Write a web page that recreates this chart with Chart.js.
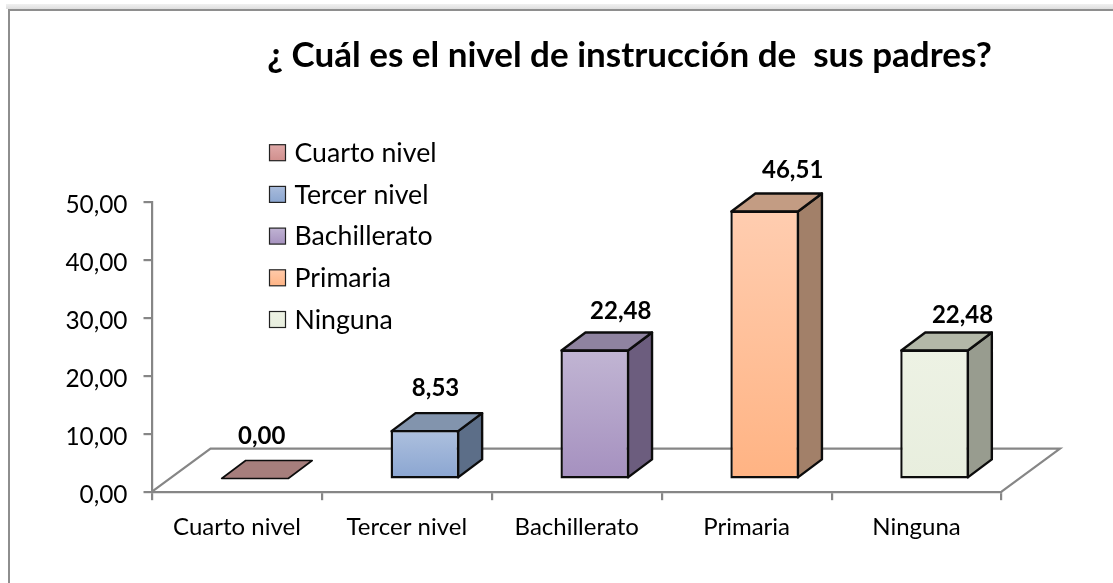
<!DOCTYPE html>
<html><head><meta charset="utf-8">
<style>html,body{margin:0;padding:0;background:#fff}canvas{display:block}</style>
<script src="https://cdn.jsdelivr.net/npm/chart.js@4"></script>
</head><body><canvas id="c" width="1113" height="583"></canvas>
<script>
const titleText = '¿ Cuál es el nivel de instrucción de  sus padres?';
const categories = ['Cuarto nivel','Tercer nivel','Bachillerato','Primaria','Ninguna'];
const values = [0, 8.53, 22.48, 46.51, 22.48];
const frontTop = ['#b08a88','#adc0de','#c1b5d3','#ffcdb0','#edf2e4'];
const frontBottom = ['#a67e7c','#8aa5d1','#a590bf','#ffb383','#e8eede'];
const sideColors = ['#8a6866','#5c6e88','#6c5d7e','#a28069','#989c8f'];
const topColors = ['#a67e7c','#8294ad','#8f83a0','#c39c83','#b3b8a8'];
const legendTop = ['#e0a9a8','#a9bcdc','#c0b3d3','#ffcaaa','#edf2e4'];
const legendBottom = ['#d08f8d','#8ba6d0','#a692bf','#ffb485','#e8eede'];
const labelOffsets = [[6.7,-25.4],[10.7,-23.4],[26,-20.4],[28,-22.1],[28,-16.1]];
const fmt = v => v.toFixed(2).replace('.', ',');
const FONT = 'Lato';
const DX = 24, DY = 18, SHIFT_X = 18, SHIFT_Y = 12.2, FLOOR_X = 58.5, FLOOR_Y = 43;
const AXIS = '#868686', EDGE = '#0c0c0c';

function poly(ctx, pts, fill){
  ctx.beginPath();
  pts.forEach((p,i)=> i?ctx.lineTo(p[0],p[1]):ctx.moveTo(p[0],p[1]));
  ctx.closePath();
  if(fill){ctx.fillStyle=fill;ctx.fill();}
  ctx.stroke();
}
const scene = {
  id:'scene',
  beforeDraw(chart){
    const ctx=chart.ctx;
    ctx.save();
    ctx.fillStyle='#fff';ctx.fillRect(0,0,chart.width,chart.height);
    const g=ctx.createLinearGradient(0,0,0,9);
    g.addColorStop(0,'#ffffff');g.addColorStop(1,'#dedede');
    ctx.fillStyle=g;ctx.fillRect(6,4,chart.width-6,5);
    ctx.strokeStyle='#8e8e8e';ctx.lineWidth=2;
    ctx.beginPath();ctx.moveTo(9,chart.height+2);ctx.lineTo(9,10);ctx.lineTo(chart.width+2,10);ctx.stroke();
    ctx.restore();
  },
  afterLayout(chart){
    const t=chart.titleBlock;
    t.left=146; t.right=1113;
  },
  beforeDatasetsDraw(chart){
    const ctx=chart.ctx,a=chart.chartArea;
    ctx.save();
    ctx.strokeStyle=AXIS;ctx.lineWidth=2.2;
    ctx.beginPath();
    ctx.moveTo(a.left,a.bottom);ctx.lineTo(a.left+FLOOR_X,a.bottom-FLOOR_Y);
    ctx.lineTo(a.right+FLOOR_X,a.bottom-FLOOR_Y);ctx.lineTo(a.right,a.bottom);
    ctx.stroke();
    ctx.lineJoin='round';ctx.strokeStyle=EDGE;ctx.lineWidth=2.4;
    chart.getDatasetMeta(0).data.forEach((el,i)=>{
      const w=el.width/2,l=el.x-w+SHIFT_X+1,r=el.x+w+SHIFT_X-1,t=el.y-SHIFT_Y,b=el.base-SHIFT_Y;
      const tt=(t===b)?t-1:t+1, bb=b-1;
      if(bb>tt) poly(ctx,[[r,tt],[r+DX,tt-DY],[r+DX,bb-DY],[r,bb]],sideColors[i]);
      ctx.save();
      if(t===b) ctx.lineWidth=1.6;
      poly(ctx,[[l,tt],[l+DX,tt-DY],[r+DX,tt-DY],[r,tt]],topColors[i]);
      ctx.restore();
    });
    ctx.restore();
    ctx.save();
    ctx.translate(SHIFT_X,-SHIFT_Y);
  },
  afterDatasetsDraw(chart){
    const ctx=chart.ctx;
    ctx.restore();
    ctx.save();
    ctx.font='bold 24px '+FONT;ctx.fillStyle='#000';ctx.textAlign='center';ctx.textBaseline='middle';
    chart.getDatasetMeta(0).data.forEach((el,i)=>{
      const backY=el.y-SHIFT_Y-DY, frontX=el.x+SHIFT_X;
      ctx.fillText(fmt(values[i]),frontX+labelOffsets[i][0],backY+labelOffsets[i][1]);
    });
    ctx.textAlign='left';ctx.font='26.7px '+FONT;
    categories.forEach((name,i)=>{
      const y=152.7+i*41.7;
      const g=ctx.createLinearGradient(0,y-8,0,y+8);
      g.addColorStop(0,legendTop[i]);g.addColorStop(1,legendBottom[i]);
      ctx.fillStyle=g;ctx.fillRect(269.5,y-8,16,16);
      ctx.strokeStyle='#222';ctx.lineWidth=1.2;ctx.strokeRect(269.5,y-8,16,16);
      ctx.fillStyle='#000';ctx.fillText(name,294.5,y+0.5);
    });
    ctx.restore();
  }
};
new Chart(document.getElementById('c'),{
  type:'bar',
  data:{labels:categories,datasets:[{
    data:values,
    backgroundColor(c){
      const i=c.dataIndex;
      if(i===undefined) return frontBottom[0];
      const y=c.chart.scales.y;
      const y0=y?y.getPixelForValue(values[i]):NaN, y1=y?y.getPixelForValue(0):NaN;
      if(!isFinite(y0)||!isFinite(y1)) return frontBottom[i];
      const g=c.chart.ctx.createLinearGradient(0,y0,0,y1);
      g.addColorStop(0,frontTop[i]);g.addColorStop(1,frontBottom[i]);
      return g;
    },
    borderColor:EDGE,borderWidth:2.4,borderSkipped:false,
    barPercentage:0.4035,categoryPercentage:1,clip:false
  }]},
  options:{
    responsive:false,animation:false,
    layout:{padding:{left:0,right:111.5,top:0,bottom:0}},
    plugins:{
      legend:{display:false},tooltip:{enabled:false},
      title:{display:true,text:titleText,color:'#000',
        font:{family:FONT,size:35,weight:'bold',lineHeight:1},
        padding:{top:38,bottom:129.5}}
    },
    scales:{
      x:{
        afterFit(s){s.height=583-491.7;},
        grid:{drawOnChartArea:false,drawTicks:true,tickLength:8.5,color:AXIS,lineWidth:2.2},
        border:{color:AXIS,width:2.2},
        ticks:{color:'#000',padding:13,autoSkip:false,maxRotation:0,font:{family:FONT,size:24}}
      },
      y:{
        min:0,max:50,
        afterFit(s){s.width=152;},
        grid:{drawOnChartArea:false,drawTicks:true,tickLength:8.5,color:AXIS,lineWidth:2.2},
        border:{color:AXIS,width:2.2},
        ticks:{color:'#000',stepSize:10,padding:16,labelOffset:3,callback:v=>fmt(v),font:{family:FONT,size:24.4}}
      }
    }
  },
  plugins:[scene]
});
</script></body></html>
